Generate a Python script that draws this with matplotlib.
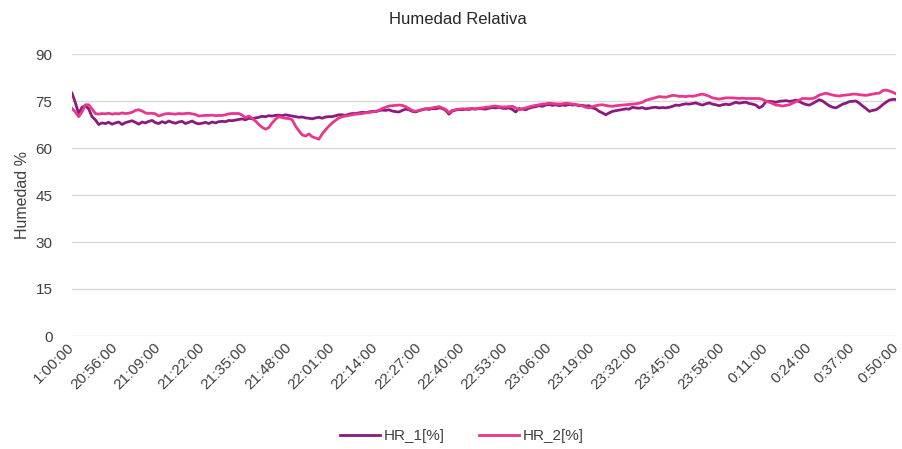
import matplotlib
matplotlib.use("Agg")
import matplotlib.pyplot as plt

plt.rcParams['font.family'] = ['Liberation Sans', 'DejaVu Sans']

# one reading per minute
hr1 = [77.5, 74.5, 71.0, 73.0, 73.5, 72.5, 70.0, 69.0, 67.5, 68.0, 67.8, 68.2, 67.6,
       68.0, 68.3, 67.5, 68.1, 68.4, 68.7, 68.2, 67.6, 68.3, 68.0, 68.5, 68.8, 68.1,
       67.8, 68.4, 68.0, 68.6, 68.2, 67.9, 68.3, 68.5, 67.8, 68.2, 68.6, 68.0, 67.7,
       67.9, 68.2, 67.8, 68.3, 68.0, 68.4, 68.5, 68.4, 68.8, 68.7, 68.9, 69.1, 69.3,
       69.0, 69.5, 69.3, 69.6, 69.8, 70.1, 70.0, 70.3, 70.2, 70.4, 70.5, 70.3, 70.6,
       70.4, 70.2, 70.0, 69.8, 69.9, 69.6, 69.5, 69.3, 69.6, 69.8, 69.5, 69.9, 70.0,
       70.0, 70.3, 70.6, 70.6, 70.4, 70.8, 71.0, 71.0, 71.2, 71.4, 71.3, 71.5, 71.7,
       71.6, 71.9, 72.1, 72.0, 72.2, 71.8, 71.6, 71.5, 72.0, 72.4, 72.2, 71.7, 71.5,
       71.9, 72.2, 72.5, 72.3, 72.6, 72.5, 72.8, 72.6, 72.0, 70.8, 71.8, 72.1, 72.3,
       72.2, 72.4, 72.3, 72.5, 72.4, 72.6, 72.5, 72.4, 72.7, 72.9, 72.8, 73.0, 72.7,
       72.6, 72.8, 72.3, 71.5, 72.6, 72.4, 72.2, 72.7, 73.0, 73.2, 73.5, 73.3, 73.7,
       73.9, 73.6, 73.8, 73.5, 73.7, 73.6, 73.9, 73.7, 73.8, 73.5, 73.6, 73.4, 73.5,
       72.8, 72.5, 71.7, 71.2, 70.6, 71.2, 71.7, 71.9, 72.1, 72.3, 72.5, 72.4, 73.0,
       72.8, 72.7, 72.9, 72.5, 72.7, 72.9, 73.0, 72.8, 72.9, 72.8, 73.0, 73.3, 73.7,
       73.6, 73.9, 74.1, 74.0, 74.2, 74.4, 74.0, 73.7, 74.1, 74.4, 74.0, 73.8, 73.5,
       73.8, 74.0, 73.8, 74.2, 74.6, 74.3, 74.5, 74.6, 74.2, 74.0, 73.7, 72.8, 73.4,
       74.8, 74.9, 74.8, 74.6, 74.9, 75.0, 75.1, 74.9, 75.0, 75.3, 74.8, 74.3, 73.9,
       73.7, 74.2, 74.8, 75.4, 75.0, 74.2, 73.5, 73.0, 72.8, 73.4, 74.0, 74.3, 74.8,
       74.9, 75.0, 74.3, 73.4, 72.6, 71.7, 72.0, 72.2, 72.9, 73.8, 74.6, 75.3, 75.5,
       75.5]

hr2 = [72.6, 71.5, 70.0, 71.5, 73.8, 73.8, 72.5, 71.0, 70.8, 71.0, 70.9, 71.1, 70.8,
       71.0, 70.9, 71.2, 71.0, 71.1, 71.4, 72.0, 72.2, 71.8, 71.2, 71.0, 71.1, 70.9,
       70.2, 70.6, 70.9, 71.0, 70.9, 70.8, 71.0, 70.9, 71.0, 71.1, 70.9, 70.7, 70.2,
       70.3, 70.4, 70.4, 70.5, 70.3, 70.4, 70.4, 70.6, 70.9, 71.0, 71.0, 71.0, 70.5,
       69.7, 70.2, 69.5, 68.6, 67.5, 66.6, 66.0, 66.5, 68.0, 69.2, 70.0, 69.7, 69.5,
       69.4, 69.0, 67.0, 65.5, 64.2, 63.8, 64.5, 63.6, 63.2, 62.8, 64.5, 65.8, 67.0,
       68.0, 68.8, 69.6, 70.0, 70.2, 70.4, 70.6, 70.8, 70.9, 71.0, 71.2, 71.3, 71.5,
       71.7, 72.0, 72.6, 73.0, 73.4, 73.5, 73.6, 73.7, 73.6, 73.2, 72.6, 72.0, 71.7,
       72.0, 72.3, 72.5, 72.6, 72.8, 73.0, 73.2, 72.8, 72.3, 71.3, 72.0, 72.2, 72.4,
       72.5, 72.4, 72.6, 72.6, 72.5, 72.7, 72.8, 73.0, 73.1, 73.3, 73.4, 73.2, 73.1,
       73.1, 73.2, 73.3, 72.8, 72.2, 72.5, 72.8, 73.1, 73.4, 73.6, 73.8, 74.0, 74.1,
       74.3, 74.2, 74.1, 74.0, 74.1, 74.3, 74.2, 74.0, 73.9, 73.7, 73.4, 73.0, 72.8,
       73.2, 73.5, 73.7, 73.8, 73.6, 73.4, 73.3, 73.5, 73.6, 73.7, 73.8, 73.9, 74.0,
       74.1, 74.3, 74.6, 75.2, 75.5, 75.8, 76.1, 76.4, 76.3, 76.2, 76.5, 76.8, 76.7,
       76.5, 76.5, 76.4, 76.6, 76.5, 76.7, 77.0, 77.2, 76.9, 76.5, 76.0, 75.8, 75.6,
       75.8, 76.0, 76.0, 76.0, 75.9, 75.8, 75.9, 75.8, 75.8, 75.8, 75.8, 75.8, 75.5,
       75.0, 74.6, 74.2, 73.7, 73.6, 73.4, 73.6, 73.8, 74.3, 74.8, 75.3, 75.8, 75.8,
       75.7, 75.8, 76.2, 76.9, 77.2, 77.5, 77.2, 76.9, 76.7, 76.6, 76.8, 76.9, 77.0,
       77.2, 77.2, 77.0, 76.9, 76.8, 77.0, 77.2, 77.4, 77.5, 78.3, 78.5, 78.2, 77.8,
       77.3]

tick_labels = ["1:00:00", "20:56:00", "21:09:00", "21:22:00", "21:35:00", "21:48:00",
               "22:01:00", "22:14:00", "22:27:00", "22:40:00", "22:53:00", "23:06:00",
               "23:19:00", "23:32:00", "23:45:00", "23:58:00", "0:11:00", "0:24:00",
               "0:37:00", "0:50:00"]
tick_step = 13

W, H = 903, 449
fig = plt.figure(figsize=(W / 100, H / 100), dpi=100)
ax = fig.add_axes([72 / W, 1 - 336 / H, (896 - 72) / W, (336 - 54) / H])

x = list(range(len(hr1)))
ax.plot(x, hr1, color='#8B1A7F', lw=2.0, label='HR_1[%]', solid_joinstyle='round')
ax.plot(x, hr2, color='#E8378C', lw=2.0, label='HR_2[%]', solid_joinstyle='round')

ax.set_xlim(0, len(hr1) - 1)
ax.set_ylim(0, 90)
ax.set_yticks(range(0, 91, 15))
ax.set_xticks(range(0, len(hr1), tick_step))
ax.set_xticklabels(tick_labels, rotation=45, ha='right', va='center', rotation_mode='anchor')
ax.tick_params(axis='both', length=0, labelsize=11, colors='#404040')
ax.tick_params(axis='x', pad=7)
ax.tick_params(axis='y', pad=14)

ax.grid(axis='y', color='#D9D9D9', lw=1)
ax.set_axisbelow(True)
for s in ax.spines.values():
    s.set_visible(False)

ax.set_ylabel('Humedad %', fontsize=11.5, color='#404040', labelpad=4)
fig.text(458 / W, 1 - 20 / H, 'Humedad Relativa', ha='center', va='center',
         fontsize=12, color='#262626')

fig.legend(loc='center', bbox_to_anchor=(462 / W, 1 - 436 / H), ncol=2, frameon=False,
           fontsize=11, handlelength=2.6, handletextpad=0.3, columnspacing=2.2,
           labelcolor='#404040')

fig.savefig('out.png', dpi=100)
